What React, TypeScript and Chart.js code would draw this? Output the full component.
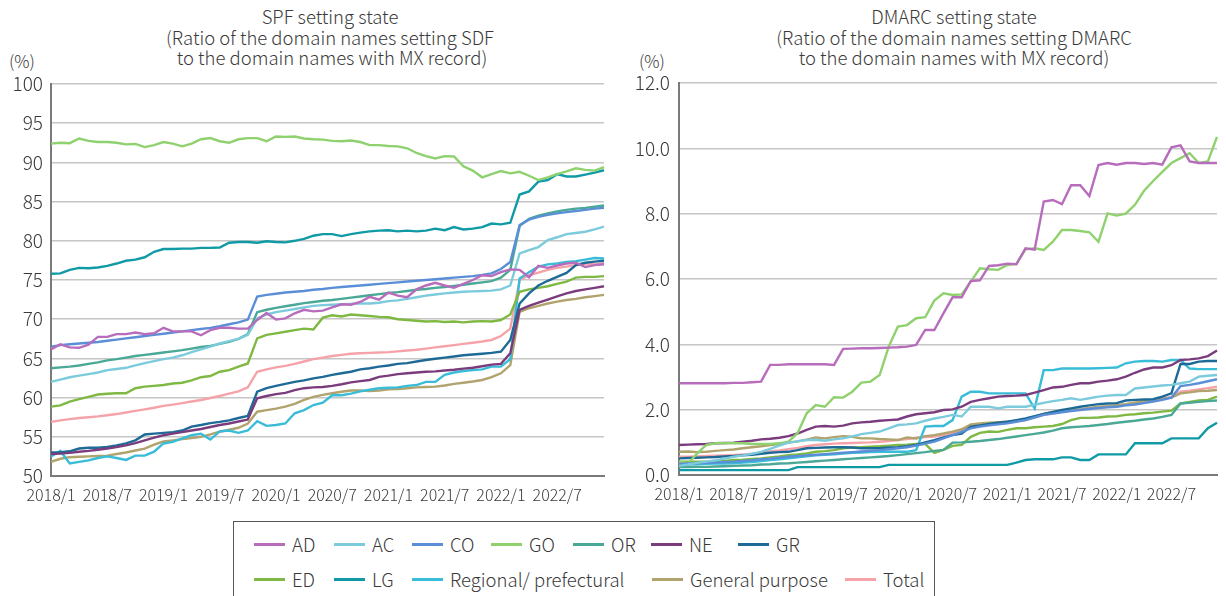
import React, { useEffect, useRef } from "react";
import { Chart, registerables } from "chart.js";
Chart.register(...registerables);

const FONT = '"Noto Sans CJK JP", "Noto Sans", sans-serif';
const TEXT = "#3a3a3a";

const YEARS = [2018, 2019, 2020, 2021, 2022];
const MONTHS: string[] = [];
for (const y of YEARS) for (let m = 1; m <= 12; m++) MONTHS.push(`${y}/${m}`);

const SERIES_NAMES = ["AD", "AC", "CO", "GO", "OR", "NE", "GR", "ED", "LG", "Regional/ prefectural", "General purpose", "Total"];
const COLORS = ["#b86cbc", "#7ccbdc", "#5a8fd8", "#8fd16f", "#4aa896", "#7b3c7e", "#1e6a97", "#7fb843", "#0f9aa6", "#38bcd8", "#b0a36e", "#f5a3a9"];

// ---- SPF (%) ----
const SPF_AD = [66.15, 66.8, 66.4, 66.35, 66.75, 67.75, 67.75, 68.1, 68.1, 68.3, 68.1, 68.2, 68.9, 68.45, 68.45, 68.45, 67.95, 68.6, 68.9, 68.9, 68.8, 68.8, 69.9, 70.8, 69.95, 70.1, 70.75, 71.2, 71.0, 71.1, 71.5, 71.9, 71.85, 72.2, 72.85, 72.5, 73.4, 73.0, 72.8, 73.8, 74.3, 74.65, 74.3, 74.0, 74.5, 75.0, 75.6, 75.5, 76.0, 76.35, 76.3, 75.35, 76.8, 76.55, 76.85, 77.1, 77.2, 76.65, 76.9, 77.0];
const SPF_AC = [62.0, 62.3, 62.6, 62.8, 63.0, 63.2, 63.5, 63.65, 63.8, 64.1, 64.4, 64.65, 64.9, 65.1, 65.4, 65.8, 66.15, 66.5, 66.9, 67.2, 67.5, 68.0, 70.1, 70.6, 70.9, 71.1, 71.3, 71.5, 71.7, 71.8, 71.85, 71.9, 71.95, 72.0, 72.0, 72.1, 72.3, 72.4, 72.6, 72.8, 73.0, 73.15, 73.3, 73.4, 73.5, 73.55, 73.6, 73.65, 73.8, 74.3, 78.4, 78.8, 79.2, 80.1, 80.45, 80.85, 81.0, 81.15, 81.45, 81.8];
const SPF_CO = [66.5, 66.7, 66.8, 66.9, 67.0, 67.1, 67.25, 67.4, 67.55, 67.7, 67.85, 68.0, 68.15, 68.3, 68.45, 68.6, 68.75, 68.9, 69.1, 69.35, 69.6, 69.95, 72.9, 73.1, 73.25, 73.4, 73.5, 73.6, 73.75, 73.85, 74.0, 74.1, 74.2, 74.3, 74.4, 74.5, 74.6, 74.7, 74.8, 74.9, 75.0, 75.1, 75.2, 75.3, 75.4, 75.5, 75.65, 75.85, 76.4, 77.3, 82.0, 82.7, 83.05, 83.3, 83.5, 83.65, 83.8, 83.95, 84.1, 84.2];
const SPF_GO = [92.4, 92.5, 92.45, 93.05, 92.75, 92.6, 92.6, 92.5, 92.3, 92.35, 91.95, 92.2, 92.6, 92.4, 92.05, 92.4, 92.95, 93.1, 92.7, 92.5, 92.95, 93.1, 93.1, 92.7, 93.3, 93.25, 93.3, 93.05, 92.95, 92.9, 92.75, 92.7, 92.8, 92.6, 92.2, 92.2, 92.1, 92.05, 91.8, 91.2, 90.8, 90.5, 90.8, 90.75, 89.5, 88.95, 88.1, 88.5, 88.9, 88.6, 88.8, 88.3, 87.75, 88.1, 88.5, 88.85, 89.25, 89.05, 88.95, 89.4];
const SPF_OR = [63.75, 63.85, 63.95, 64.1, 64.3, 64.5, 64.75, 64.9, 65.1, 65.3, 65.45, 65.6, 65.75, 65.9, 66.05, 66.25, 66.45, 66.6, 66.85, 67.1, 67.5, 68.1, 70.9, 71.2, 71.45, 71.65, 71.85, 72.05, 72.2, 72.35, 72.45, 72.6, 72.75, 72.9, 73.05, 73.2, 73.35, 73.45, 73.6, 73.75, 73.85, 74.0, 74.1, 74.25, 74.4, 74.55, 74.7, 74.85, 75.3, 76.3, 81.9, 82.8, 83.2, 83.5, 83.75, 83.95, 84.1, 84.2, 84.35, 84.5];
const SPF_NE = [52.8, 52.85, 52.95, 53.1, 53.2, 53.35, 53.5, 53.7, 53.9, 54.2, 54.55, 54.9, 55.2, 55.4, 55.6, 55.8, 56.0, 56.25, 56.5, 56.7, 56.95, 57.2, 59.9, 60.2, 60.45, 60.6, 60.95, 61.2, 61.3, 61.35, 61.5, 61.7, 61.95, 62.1, 62.25, 62.65, 62.8, 63.0, 63.1, 63.2, 63.3, 63.35, 63.45, 63.55, 63.7, 63.8, 64.0, 64.2, 64.3, 65.65, 71.2, 71.7, 72.1, 72.5, 72.9, 73.3, 73.6, 73.8, 74.0, 74.2];
const SPF_GR = [53.0, 53.05, 53.15, 53.5, 53.6, 53.6, 53.7, 53.9, 54.15, 54.55, 55.3, 55.4, 55.5, 55.6, 55.8, 56.3, 56.5, 56.75, 56.9, 57.1, 57.4, 57.65, 60.75, 61.2, 61.5, 61.75, 62.0, 62.2, 62.45, 62.65, 62.9, 63.1, 63.3, 63.6, 63.75, 63.95, 64.1, 64.3, 64.4, 64.6, 64.8, 64.95, 65.1, 65.25, 65.4, 65.5, 65.6, 65.7, 65.85, 67.35, 72.0, 73.3, 74.3, 74.9, 75.4, 75.9, 76.9, 77.2, 77.35, 77.45];
const SPF_ED = [58.85, 59.0, 59.5, 59.8, 60.1, 60.4, 60.5, 60.55, 60.55, 61.2, 61.4, 61.5, 61.6, 61.8, 61.9, 62.2, 62.6, 62.75, 63.3, 63.5, 63.95, 64.35, 67.55, 68.0, 68.2, 68.4, 68.6, 68.8, 68.7, 70.2, 70.5, 70.35, 70.6, 70.5, 70.4, 70.3, 70.25, 70.0, 69.9, 69.8, 69.7, 69.75, 69.65, 69.7, 69.6, 69.7, 69.75, 69.7, 69.9, 70.6, 73.5, 73.8, 74.0, 74.2, 74.5, 74.8, 75.3, 75.4, 75.4, 75.5];
const SPF_LG = [75.8, 75.85, 76.3, 76.55, 76.5, 76.6, 76.8, 77.1, 77.45, 77.6, 77.9, 78.6, 78.95, 78.95, 79.0, 79.0, 79.1, 79.1, 79.15, 79.75, 79.85, 79.85, 79.75, 79.95, 79.85, 79.8, 80.0, 80.25, 80.65, 80.85, 80.85, 80.6, 80.85, 81.05, 81.2, 81.3, 81.35, 81.2, 81.3, 81.2, 81.3, 81.55, 81.35, 81.75, 81.45, 81.55, 81.75, 82.2, 82.1, 82.3, 85.9, 86.3, 87.55, 87.75, 88.5, 88.2, 88.2, 88.45, 88.7, 89.0];
const SPF_REG = [52.5, 53.2, 51.6, 51.8, 52.0, 52.3, 52.5, 52.3, 52.05, 52.6, 52.6, 53.1, 54.15, 54.35, 54.8, 55.2, 55.4, 54.65, 55.7, 55.8, 55.5, 55.8, 57.0, 56.4, 56.5, 56.7, 58.0, 58.4, 59.05, 59.35, 60.3, 60.3, 60.5, 60.8, 61.0, 61.2, 61.25, 61.3, 61.5, 61.6, 62.0, 62.0, 62.9, 63.2, 63.4, 63.5, 63.6, 63.95, 63.95, 64.9, 75.2, 76.0, 76.7, 77.0, 77.1, 77.3, 77.4, 77.6, 77.8, 77.75];
const SPF_GEN = [51.8, 52.2, 52.4, 52.45, 52.5, 52.55, 52.6, 52.8, 53.0, 53.25, 53.5, 54.0, 54.4, 54.55, 54.7, 54.85, 55.0, 55.3, 55.65, 55.9, 56.15, 56.7, 58.2, 58.4, 58.6, 58.85, 59.2, 59.7, 60.1, 60.35, 60.55, 60.75, 60.9, 60.9, 60.85, 60.9, 61.05, 61.1, 61.2, 61.3, 61.35, 61.4, 61.55, 61.75, 61.9, 62.05, 62.25, 62.6, 63.1, 64.15, 70.95, 71.4, 71.7, 72.0, 72.25, 72.45, 72.6, 72.8, 72.95, 73.1];
const SPF_TOTAL = [56.9, 57.1, 57.25, 57.4, 57.5, 57.6, 57.75, 57.9, 58.1, 58.3, 58.5, 58.7, 58.95, 59.1, 59.3, 59.5, 59.7, 59.95, 60.2, 60.5, 60.8, 61.3, 63.3, 63.6, 63.85, 64.05, 64.3, 64.6, 64.9, 65.1, 65.3, 65.45, 65.6, 65.65, 65.7, 65.75, 65.8, 65.9, 66.0, 66.1, 66.25, 66.4, 66.55, 66.7, 66.85, 67.0, 67.15, 67.35, 67.85, 68.8, 75.0, 75.6, 75.95, 76.3, 76.55, 76.7, 76.9, 77.0, 77.0, 77.15];

// ---- DMARC (%) ----
const DM_AD = [2.81, 2.81, 2.81, 2.81, 2.81, 2.81, 2.82, 2.82, 2.84, 2.86, 3.37, 3.37, 3.39, 3.39, 3.39, 3.39, 3.39, 3.37, 3.86, 3.87, 3.88, 3.88, 3.89, 3.9, 3.91, 3.93, 3.98, 4.44, 4.44, 4.95, 5.44, 5.44, 5.94, 5.96, 6.4, 6.42, 6.47, 6.45, 6.94, 6.9, 8.37, 8.42, 8.29, 8.87, 8.87, 8.54, 9.49, 9.55, 9.5, 9.55, 9.55, 9.52, 9.55, 9.5, 10.03, 10.09, 9.6, 9.55, 9.55, 9.55];
const DM_AC = [0.28, 0.32, 0.37, 0.41, 0.45, 0.5, 0.56, 0.6, 0.65, 0.71, 0.8, 0.9, 0.99, 1.03, 1.07, 1.08, 1.05, 1.09, 1.12, 1.18, 1.25, 1.29, 1.33, 1.43, 1.53, 1.55, 1.58, 1.66, 1.73, 1.78, 1.84, 1.79, 2.09, 2.09, 2.09, 2.04, 2.09, 2.09, 2.09, 2.15, 2.21, 2.26, 2.3, 2.35, 2.3, 2.35, 2.4, 2.43, 2.45, 2.45, 2.65, 2.68, 2.71, 2.74, 2.76, 2.81, 2.86, 3.01, 3.04, 3.06];
const DM_CO = [0.34, 0.35, 0.36, 0.37, 0.38, 0.4, 0.41, 0.43, 0.45, 0.48, 0.5, 0.53, 0.56, 0.58, 0.6, 0.62, 0.64, 0.66, 0.68, 0.7, 0.72, 0.74, 0.76, 0.79, 0.82, 0.85, 0.9, 0.96, 1.02, 1.12, 1.22, 1.32, 1.43, 1.48, 1.52, 1.55, 1.58, 1.63, 1.68, 1.76, 1.84, 1.88, 1.92, 1.96, 1.99, 2.02, 2.05, 2.07, 2.09, 2.13, 2.16, 2.2, 2.25, 2.3, 2.37, 2.72, 2.76, 2.81, 2.87, 2.93];
const DM_GO = [0.41, 0.36, 0.66, 0.92, 0.97, 0.97, 0.97, 0.97, 0.95, 0.95, 0.95, 0.97, 1.02, 1.28, 1.89, 2.14, 2.09, 2.38, 2.37, 2.55, 2.83, 2.86, 3.06, 3.93, 4.54, 4.59, 4.8, 4.83, 5.34, 5.56, 5.51, 5.53, 5.92, 6.33, 6.3, 6.28, 6.43, 6.46, 6.91, 6.94, 6.89, 7.14, 7.5, 7.5, 7.47, 7.43, 7.14, 8.01, 7.94, 8.0, 8.27, 8.7, 9.0, 9.28, 9.55, 9.7, 9.85, 9.55, 9.6, 10.35];
const DM_OR = [0.24, 0.24, 0.25, 0.25, 0.26, 0.27, 0.28, 0.29, 0.3, 0.32, 0.33, 0.35, 0.36, 0.38, 0.4, 0.42, 0.44, 0.46, 0.48, 0.5, 0.52, 0.54, 0.56, 0.58, 0.61, 0.64, 0.67, 0.7, 0.74, 0.77, 0.99, 1.0, 1.02, 1.04, 1.07, 1.1, 1.14, 1.18, 1.22, 1.26, 1.3, 1.36, 1.43, 1.46, 1.48, 1.5, 1.53, 1.56, 1.6, 1.63, 1.66, 1.7, 1.73, 1.78, 1.84, 2.19, 2.21, 2.24, 2.26, 2.28];
const DM_NE = [0.92, 0.93, 0.94, 0.95, 0.97, 0.98, 0.99, 1.02, 1.05, 1.09, 1.11, 1.14, 1.19, 1.27, 1.38, 1.48, 1.5, 1.48, 1.51, 1.58, 1.61, 1.63, 1.66, 1.68, 1.7, 1.79, 1.86, 1.89, 1.92, 1.99, 2.01, 2.09, 2.24, 2.3, 2.35, 2.4, 2.42, 2.43, 2.45, 2.52, 2.6, 2.68, 2.7, 2.76, 2.81, 2.81, 2.86, 2.89, 2.93, 3.01, 3.13, 3.23, 3.29, 3.29, 3.36, 3.52, 3.54, 3.57, 3.64, 3.81];
const DM_GR = [0.51, 0.52, 0.53, 0.54, 0.55, 0.57, 0.58, 0.6, 0.62, 0.65, 0.68, 0.7, 0.71, 0.76, 0.82, 0.83, 0.84, 0.85, 0.85, 0.84, 0.82, 0.82, 0.82, 0.84, 0.85, 0.88, 0.92, 1.0, 1.07, 1.15, 1.22, 1.27, 1.48, 1.52, 1.56, 1.6, 1.63, 1.68, 1.73, 1.8, 1.87, 1.93, 1.99, 2.04, 2.09, 2.13, 2.17, 2.19, 2.2, 2.28, 2.3, 2.31, 2.32, 2.4, 2.5, 3.4, 3.4, 3.47, 3.49, 3.49];
const DM_ED = [0.41, 0.41, 0.41, 0.41, 0.42, 0.43, 0.46, 0.47, 0.49, 0.51, 0.54, 0.57, 0.61, 0.63, 0.66, 0.71, 0.73, 0.76, 0.82, 0.84, 0.85, 0.87, 0.88, 0.9, 0.92, 0.93, 0.95, 0.95, 0.68, 0.77, 0.89, 0.92, 1.17, 1.29, 1.33, 1.32, 1.38, 1.43, 1.43, 1.46, 1.48, 1.5, 1.56, 1.68, 1.75, 1.75, 1.76, 1.79, 1.8, 1.84, 1.86, 1.89, 1.91, 1.94, 1.97, 2.19, 2.24, 2.28, 2.3, 2.4];
const DM_LG = [0.15, 0.15, 0.15, 0.15, 0.15, 0.15, 0.15, 0.15, 0.15, 0.15, 0.15, 0.15, 0.15, 0.24, 0.24, 0.24, 0.24, 0.24, 0.24, 0.24, 0.24, 0.24, 0.24, 0.31, 0.31, 0.31, 0.31, 0.31, 0.31, 0.31, 0.31, 0.31, 0.31, 0.31, 0.31, 0.31, 0.31, 0.38, 0.46, 0.48, 0.48, 0.48, 0.54, 0.54, 0.46, 0.46, 0.63, 0.63, 0.63, 0.63, 0.97, 0.97, 0.97, 0.97, 1.12, 1.12, 1.12, 1.12, 1.43, 1.6];
const DM_REG = [0.31, 0.32, 0.33, 0.34, 0.35, 0.35, 0.36, 0.38, 0.4, 0.43, 0.46, 0.48, 0.51, 0.54, 0.57, 0.6, 0.62, 0.63, 0.66, 0.68, 0.69, 0.7, 0.71, 0.71, 0.71, 0.71, 0.76, 1.48, 1.5, 1.5, 1.68, 2.4, 2.55, 2.55, 2.5, 2.5, 2.5, 2.5, 2.5, 2.04, 3.21, 3.21, 3.26, 3.26, 3.26, 3.26, 3.27, 3.28, 3.29, 3.42, 3.47, 3.49, 3.49, 3.47, 3.52, 3.52, 3.26, 3.24, 3.24, 3.24];
const DM_GEN = [0.71, 0.72, 0.7, 0.71, 0.74, 0.76, 0.78, 0.82, 0.85, 0.88, 0.92, 0.95, 0.99, 1.03, 1.08, 1.15, 1.12, 1.16, 1.19, 1.17, 1.12, 1.12, 1.1, 1.09, 1.07, 1.15, 1.12, 1.19, 1.22, 1.27, 1.33, 1.4, 1.55, 1.58, 1.6, 1.62, 1.63, 1.65, 1.68, 1.77, 1.87, 1.92, 1.97, 1.99, 2.01, 2.05, 2.09, 2.11, 2.14, 2.17, 2.21, 2.25, 2.3, 2.33, 2.37, 2.5, 2.53, 2.57, 2.58, 2.6];
const DM_TOTAL = [0.56, 0.56, 0.57, 0.58, 0.59, 0.6, 0.61, 0.63, 0.65, 0.68, 0.72, 0.75, 0.79, 0.83, 0.88, 0.92, 0.94, 0.96, 0.97, 0.98, 0.99, 1.0, 1.02, 1.04, 1.07, 1.1, 1.14, 1.16, 1.18, 1.22, 1.29, 1.38, 1.48, 1.53, 1.58, 1.6, 1.63, 1.66, 1.7, 1.77, 1.84, 1.89, 1.94, 1.98, 2.01, 2.04, 2.07, 2.1, 2.12, 2.16, 2.21, 2.25, 2.3, 2.34, 2.38, 2.55, 2.58, 2.62, 2.66, 2.7];

const SPF_SERIES = [SPF_AD, SPF_AC, SPF_CO, SPF_GO, SPF_OR, SPF_NE, SPF_GR, SPF_ED, SPF_LG, SPF_REG, SPF_GEN, SPF_TOTAL];
const DM_SERIES = [DM_AD, DM_AC, DM_CO, DM_GO, DM_OR, DM_NE, DM_GR, DM_ED, DM_LG, DM_REG, DM_GEN, DM_TOTAL];

type ChartProps = {
  series: number[][];
  yMin: number;
  yMax: number;
  step: number;
  decimals: number;
  left: number;
  width: number;
  height: number;
  padTop: number;
  padRight: number;
  yAxisWidth: number;
  xAxisHeight: number;
  yPad: number;
};

function LineChart(p: ChartProps) {
  const ref = useRef<HTMLCanvasElement>(null);
  useEffect(() => {
    const chart = new Chart(ref.current!, {
      type: "line",
      data: {
        labels: MONTHS,
        datasets: SERIES_NAMES.map((n, k) => ({
          label: n,
          data: p.series[k],
          borderColor: COLORS[k],
          backgroundColor: COLORS[k],
          borderWidth: 2.4,
          pointRadius: 0,
          tension: 0,
          fill: false,
        })),
      },
      options: {
        responsive: false,
        animation: false,
        devicePixelRatio: 1,
        layout: { padding: { top: p.padTop, right: p.padRight, bottom: 0, left: 0 } },
        plugins: { legend: { display: false }, tooltip: { enabled: false }, title: { display: false } },
        scales: {
          x: {
            type: "category",
            grid: { display: false, drawTicks: false },
            border: { display: true, color: "#7a7a7a", width: 2 },
            ticks: {
              autoSkip: false,
              maxRotation: 0,
              minRotation: 0,
              padding: 9,
              color: TEXT,
              font: { family: FONT, size: 16, weight: "300" },
              callback: (_v: any, i: number) => (i % 6 === 0 ? MONTHS[i] : ""),
            },
            afterFit: (s: any) => {
              s.height = p.xAxisHeight;
            },
          },
          y: {
            min: p.yMin,
            max: p.yMax,
            grid: { color: "#c6c6c6", lineWidth: 1.5, drawTicks: false },
            border: { display: true, color: "#7a7a7a", width: 2 },
            ticks: {
              stepSize: p.step,
              padding: p.yPad,
              color: TEXT,
              font: { family: FONT, size: 19, weight: "300" },
              callback: (v: any) => Number(v).toFixed(p.decimals),
            },
            afterFit: (s: any) => {
              s.width = p.yAxisWidth;
            },
          },
        },
      },
    } as any);
    return () => chart.destroy();
  }, []);
  return (
    <canvas
      ref={ref}
      width={p.width}
      height={p.height}
      style={{ position: "absolute", left: p.left, top: 0, width: p.width, height: p.height }}
    />
  );
}

const LEGEND_ITEMS = [
  { k: 0, x: 254, row: 0 },
  { k: 1, x: 334, row: 0 },
  { k: 2, x: 412, row: 0 },
  { k: 3, x: 491, row: 0 },
  { k: 4, x: 573, row: 0 },
  { k: 5, x: 651, row: 0 },
  { k: 6, x: 738, row: 0 },
  { k: 7, x: 254, row: 1 },
  { k: 8, x: 334, row: 1 },
  { k: 9, x: 412, row: 1 },
  { k: 10, x: 652, row: 1 },
  { k: 11, x: 845, row: 1 },
];

export default function App() {
  const textStyle: React.CSSProperties = {
    position: "absolute",
    fontFamily: FONT,
    fontWeight: 300,
    color: TEXT,
    fontSize: 18.5,
    lineHeight: "20.5px",
    whiteSpace: "pre",
    textAlign: "center",
  };
  return (
    <div style={{ position: "absolute", left: 0, top: 0, width: 1226, height: 596, overflow: "hidden", background: "#fff" }}>
      <div style={{ ...textStyle, left: 30, width: 600, top: 6 }}>
        {"SPF setting state\n(Ratio of the domain names setting SDF\n to the domain names with MX record)"}
      </div>
      <div style={{ ...textStyle, left: 654, width: 600, top: 6 }}>
        {"DMARC setting state\n(Ratio of the domain names setting DMARC\nto the domain names with MX record)"}
      </div>
      <div style={{ ...textStyle, fontSize: 17, left: 9, top: 51, textAlign: "left" }}>(%)</div>
      <div style={{ ...textStyle, fontSize: 17, left: 639, top: 51, textAlign: "left" }}>(%)</div>
      <LineChart series={SPF_SERIES} yMin={50} yMax={100} step={5} decimals={0} left={0} width={620} height={505}
        padTop={84} padRight={16} yAxisWidth={51} xAxisHeight={29} yPad={8} />
      <LineChart series={DM_SERIES} yMin={0} yMax={12} step={2} decimals={1} left={620} width={606} height={505}
        padTop={83} padRight={0} yAxisWidth={59} xAxisHeight={30} yPad={9} />
      <div style={{ position: "absolute", left: 233, top: 521, width: 702, height: 100, border: "1px solid #555", boxSizing: "border-box" }} />
      {LEGEND_ITEMS.map((it) => (
        <React.Fragment key={it.k}>
          <div style={{ position: "absolute", left: it.x, top: (it.row ? 579 : 544) - 1.5, width: 31, height: 3, background: COLORS[it.k] }} />
          <div style={{ ...textStyle, textAlign: "left", left: it.x + 38, top: (it.row ? 579 : 544) - 11, lineHeight: "22px" }}>
            {SERIES_NAMES[it.k]}
          </div>
        </React.Fragment>
      ))}
    </div>
  );
}
